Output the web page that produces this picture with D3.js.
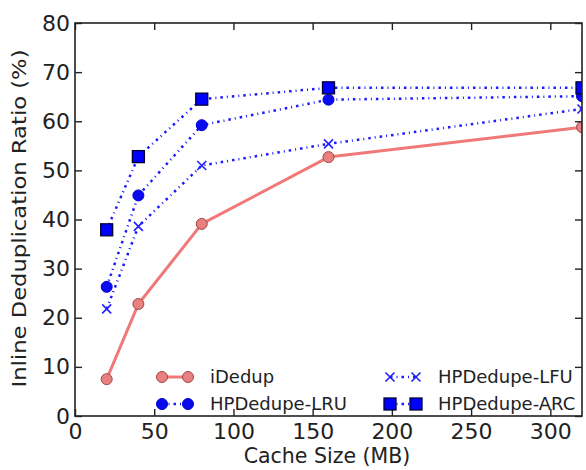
<!DOCTYPE html>
<head>
    <meta charset="UTF-8" />
    <style>
        body { margin: 0; padding: 0; background: #fff; }
        svg { display: block; font-family: "DejaVu Sans", sans-serif; }
    </style>
    <title>Inline Deduplication Ratio</title>
</head>
<svg width="586" height="470"></svg>
<script src="https://cdn.jsdelivr.net/npm/d3@7"></script>
<script>
    // data
    var cacheSizes = [20, 40, 80, 160, 320];
    var iDedup = [7.5, 22.8, 39.1, 52.7, 58.8];
    var lru = [26.3, 44.9, 59.2, 64.4, 65.1];
    var lfu = [21.8, 38.6, 51.0, 55.4, 62.5];
    var arc = [37.9, 52.8, 64.5, 66.8, 66.8];
    var seriesNames = ["iDedup", "HPDedupe-LRU", "HPDedupe-LFU", "HPDedupe-ARC"];
    var xTicks = [0, 50, 100, 150, 200, 250, 300];
    var yTicks = [0, 10, 20, 30, 40, 50, 60, 70, 80];

    var svg = d3.select("svg");
    // note: "top" is taken by window.top, so plot edges get a prefix
    var pLeft = 75, pRight = 582, pTop = 23, pBottom = 416;

    var x = d3.scaleLinear().domain([0, 320]).range([pLeft, pRight]);
    var y = d3.scaleLinear().domain([0, 80]).range([pBottom, pTop]);

    var series = [
        { name: seriesNames[0], values: iDedup, stroke: "#f07878", width: 3, dash: null, marker: "circle", fill: "#e88080", edge: "#a04848" },
        { name: seriesNames[1], values: lru, stroke: "#1a1aff", width: 2.5, dash: "2.5,4,1,4", marker: "circle", fill: "#0a0aee", edge: "#0000cc" },
        { name: seriesNames[2], values: lfu, stroke: "#1a1aff", width: 2.5, dash: "2.5,4,1,4", marker: "x", fill: "none", edge: "#2020ff" },
        { name: seriesNames[3], values: arc, stroke: "#1a1aff", width: 2.5, dash: "2.5,4,1,4", marker: "square", fill: "#0000ff", edge: "#000033" }
    ];

    svg.append("clipPath").attr("id", "plot")
        .append("rect").attr("x", pLeft).attr("y", pTop)
        .attr("width", pRight - pLeft).attr("height", pBottom - pTop);

    var plot = svg.append("g").attr("clip-path", "url(#plot)");

    var line = d3.line().x(d => x(d[0])).y(d => y(d[1]));

    function drawMarker(g, type, cx, cy, s) {
        if (type === "circle") {
            g.append("circle").attr("cx", cx).attr("cy", cy).attr("r", 5.5 * s)
                .attr("fill", g.datum().fill).attr("stroke", g.datum().edge).attr("stroke-width", 1);
        } else if (type === "square") {
            var h = 6 * s;
            g.append("rect").attr("x", cx - h).attr("y", cy - h)
                .attr("width", 2 * h).attr("height", 2 * h)
                .attr("fill", g.datum().fill).attr("stroke", g.datum().edge).attr("stroke-width", 1.3);
        } else {
            var r = 4.5 * s;
            g.append("path")
                .attr("d", `M${cx - r},${cy - r}L${cx + r},${cy + r}M${cx - r},${cy + r}L${cx + r},${cy - r}`)
                .attr("stroke", g.datum().edge).attr("stroke-width", 1.6).attr("fill", "none");
        }
    }

    series.forEach(function (s) {
        var pts = cacheSizes.map((c, i) => [c, s.values[i]]);
        plot.append("path")
            .attr("d", line(pts))
            .attr("fill", "none")
            .attr("stroke", s.stroke)
            .attr("stroke-width", s.width)
            .attr("stroke-dasharray", s.dash)
            .attr("stroke-linejoin", "round");
        var mg = plot.append("g").datum(s);
        pts.forEach(p => drawMarker(mg, s.marker, x(p[0]), y(p[1]), 1));
    });

    // frame
    svg.append("rect").attr("x", pLeft).attr("y", pTop)
        .attr("width", pRight - pLeft).attr("height", pBottom - pTop)
        .attr("fill", "none").attr("stroke", "#222").attr("stroke-width", 1.6);

    // inward ticks on all four sides
    var xAxisB = d3.axisBottom(x).tickValues(xTicks).tickSizeInner(-7).tickSizeOuter(0).tickPadding(7);
    var xAxisT = d3.axisTop(x).tickValues(xTicks).tickSizeInner(-7).tickSizeOuter(0).tickFormat("");
    var yAxisL = d3.axisLeft(y).tickValues(yTicks).tickSizeInner(-7).tickSizeOuter(0).tickPadding(5);
    var yAxisR = d3.axisRight(y).tickValues(yTicks).tickSizeInner(-7).tickSizeOuter(0).tickFormat("");

    function styleAxis(g) {
        g.select(".domain").remove();
        g.selectAll(".tick line").attr("stroke", "#222").attr("stroke-width", 1.4);
        g.selectAll(".tick text").attr("fill", "#222").style("font-size", "22px")
            .style("font-family", "DejaVu Sans, sans-serif");
    }

    svg.append("g").attr("transform", `translate(0,${pBottom})`).call(xAxisB).call(styleAxis);
    svg.append("g").attr("transform", `translate(0,${pTop})`).call(xAxisT).call(styleAxis);
    svg.append("g").attr("transform", `translate(${pLeft},0)`).call(yAxisL).call(styleAxis);
    svg.append("g").attr("transform", `translate(${pRight},0)`).call(yAxisR).call(styleAxis);

    // axis titles
    svg.append("text")
        .attr("x", 327).attr("y", 463)
        .attr("text-anchor", "middle")
        .attr("fill", "#222")
        .style("font-size", "20.5px")
        .text("Cache Size (MB)");

    svg.append("text")
        .attr("transform", "translate(26,218.5) rotate(-90)")
        .attr("text-anchor", "middle")
        .attr("fill", "#222")
        .attr("textLength", 338)
        .attr("lengthAdjust", "spacingAndGlyphs")
        .style("font-size", "20px")
        .text("Inline Deduplication Ratio (%)");

    // legend, two columns
    var legendPos = [[158, 377], [158, 404], [386, 377], [386, 404]];
    series.forEach(function (s, i) {
        var lx = legendPos[i][0], ly = legendPos[i][1];
        var g = svg.append("g").datum(s);
        g.append("line").attr("x1", lx + 4).attr("x2", lx + 30).attr("y1", ly).attr("y2", ly)
            .attr("stroke", s.stroke).attr("stroke-width", s.width).attr("stroke-dasharray", s.dash);
        drawMarker(g, s.marker, lx + 4, ly, 1);
        drawMarker(g, s.marker, lx + 30, ly, 1);
        g.append("text").attr("x", lx + 52).attr("y", ly).attr("dy", "0.35em")
            .attr("fill", "#222").style("font-size", "18px").text(s.name);
    });
</script>
